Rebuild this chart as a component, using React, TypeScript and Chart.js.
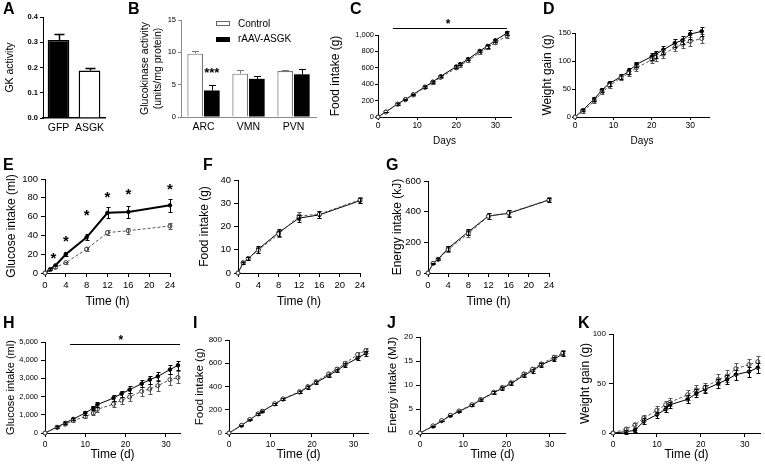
import React, { useEffect, useRef } from "react";
import { Chart, registerables } from "chart.js";

Chart.register(...registerables);

const FONT = "'Liberation Sans', Arial, Helvetica, sans-serif";

// ---------- Panel A ----------
const A_LABELS = ["GFP", "ASGK"];
const A_VALUES = [0.309, 0.188];
const A_ERRORS = [0.024, 0.011];
const A_Y_TICKS = [0, 0.1, 0.2, 0.3, 0.4];

// ---------- Panel B ----------
const B_LABELS = ["ARC", "VMN", "PVN"];
const B_CONTROL = [9.8, 6.7, 7.1];
const B_CONTROL_ERR = [0.4, 0.6, 0.15];
const B_ASGK = [4.1, 5.9, 6.6];
const B_ASGK_ERR = [0.8, 0.5, 0.9];
const B_Y_TICKS = [0, 5, 10, 15];
const B_SERIES = ["Control", "rAAV-ASGK"];

// ---------- Panel C (food intake, days) ----------
const C_DAYS = [0, 2, 5, 7, 9, 12, 14, 16, 20, 21, 23, 26, 28, 30, 33];
const C_SOLID = [0, 62, 160, 215, 275, 368, 430, 495, 615, 645, 705, 805, 865, 935, 1025];
const C_SOLID_ERR = [0, 5, 8, 8, 10, 10, 12, 12, 15, 15, 15, 18, 18, 20, 22];
const C_DASH = [0, 60, 155, 210, 268, 360, 420, 482, 598, 628, 688, 785, 845, 905, 990];
const C_DASH_ERR = [0, 5, 8, 8, 10, 10, 12, 12, 15, 15, 15, 18, 18, 20, 22];
const C_X_TICKS = [0, 10, 20, 30];
const C_Y_TICKS = [0, 200, 400, 600, 800, 1000];

// ---------- Panel D (weight gain, days) ----------
const D_DAYS = [0, 2, 5, 7, 9, 12, 14, 16, 20, 21, 23, 26, 28, 30, 33];
const D_SOLID = [0, 12, 32, 48, 60, 72, 82, 94, 108, 112, 120, 132, 137, 148, 153];
const D_SOLID_ERR = [0, 2, 3, 3, 4, 4, 5, 5, 6, 6, 7, 7, 7, 8, 8];
const D_DASH = [0, 10, 28, 44, 56, 70, 78, 88, 102, 106, 112, 124, 130, 135, 140];
const D_DASH_ERR = [0, 2, 3, 3, 4, 4, 5, 5, 6, 6, 7, 7, 7, 8, 8];
const D_X_TICKS = [0, 10, 20, 30];
const D_Y_TICKS = [0, 50, 100, 150];

// ---------- Panel E (glucose intake, hours) ----------
const E_HOURS = [0, 1, 2, 4, 8, 12, 16, 24];
const E_SOLID = [0, 4, 8, 20, 38, 64, 65, 72];
const E_SOLID_ERR = [0, 1, 1, 2, 3, 6, 6, 7];
const E_DASH = [0, 3.5, 6, 11, 25.5, 43, 45, 50];
const E_DASH_ERR = [0, 0.5, 1, 1, 2, 3, 3, 3];
const E_X_TICKS = [0, 4, 8, 12, 16, 20, 24];
const E_Y_TICKS = [0, 20, 40, 60, 80, 100];
const E_STAR_X = [1.6, 4, 8, 12, 16, 24];
const E_STAR_Y = [20, 38, 66, 85, 87.5, 93.5];

// ---------- Panel F (food intake, hours) ----------
const F_HOURS = [0, 1, 2, 4, 8, 12, 16, 24];
const F_SOLID = [0, 4.3, 6.1, 10.3, 17.4, 23.6, 25, 31.1];
const F_SOLID_ERR = [0, 0.5, 0.6, 1.5, 1.5, 1.5, 1.5, 1];
const F_DASH = [0, 4.5, 6.3, 9.8, 16.8, 24.5, 25.3, 31.5];
const F_DASH_ERR = [0, 0.5, 0.6, 1.3, 1.5, 1.8, 1.5, 1.2];
const F_Y_TICKS = [0, 10, 20, 30, 40];

// ---------- Panel G (energy intake, hours) ----------
const G_HOURS = [0, 1, 2, 4, 8, 12, 16, 24];
const G_SOLID = [0, 63, 91, 161, 269, 372, 389, 476];
const G_SOLID_ERR = [0, 5, 5, 18, 18, 20, 22, 15];
const G_DASH = [0, 62, 88, 152, 258, 370, 392, 478];
const G_DASH_ERR = [0, 5, 5, 15, 20, 20, 20, 15];
const G_Y_TICKS = [0, 200, 400, 600];

// ---------- Panel H (glucose intake, days) ----------
const H_DAYS = [0, 3, 5, 7, 10, 12, 13, 17, 19, 21, 24, 26, 28, 31, 33];
const H_SOLID = [0, 330, 550, 770, 1100, 1370, 1560, 1920, 2160, 2380, 2710, 2930, 3110, 3480, 3720];
const H_SOLID_ERR = [0, 30, 50, 60, 100, 120, 130, 150, 170, 180, 200, 220, 230, 250, 260];
const H_DASH = [0, 300, 480, 680, 900, 1100, 1300, 1590, 1800, 1980, 2290, 2420, 2600, 2930, 3050];
const H_DASH_ERR = [0, 30, 50, 60, 100, 120, 130, 180, 200, 220, 250, 270, 290, 310, 330];
const H_X_TICKS = [0, 10, 20, 30];
const H_Y_TICKS = [0, 1000, 2000, 3000, 4000, 5000];

// ---------- Panel I (food intake, days) ----------
const I_DAYS = [0, 3, 5, 7, 8, 11, 13, 17, 19, 21, 24, 26, 28, 31, 33];
const I_SOLID = [0, 66, 114, 163, 186, 249, 291, 351, 394, 434, 494, 537, 586, 645, 686];
const I_SOLID_ERR = [0, 4, 5, 6, 6, 8, 8, 10, 12, 12, 14, 15, 16, 18, 20];
const I_DASH = [0, 66, 116, 165, 188, 252, 294, 356, 400, 442, 508, 550, 600, 675, 710];
const I_DASH_ERR = [0, 4, 5, 6, 6, 8, 8, 10, 12, 12, 14, 15, 16, 18, 20];
const I_Y_TICKS = [0, 200, 400, 600, 800];

// ---------- Panel J (energy intake, days) ----------
const J_DAYS = [0, 3, 5, 7, 9, 12, 14, 17, 19, 21, 24, 26, 28, 31, 33];
const J_SOLID = [0, 1.4, 2.5, 3.6, 4.5, 5.8, 6.9, 8.4, 9.3, 10.3, 12.0, 13.0, 14.2, 15.4, 16.5];
const J_SOLID_ERR = [0, 0.1, 0.1, 0.15, 0.15, 0.2, 0.2, 0.25, 0.3, 0.3, 0.35, 0.4, 0.4, 0.45, 0.5];
const J_DASH = [0, 1.5, 2.6, 3.7, 4.6, 5.9, 7.0, 8.5, 9.5, 10.5, 12.3, 13.3, 14.4, 15.8, 16.7];
const J_DASH_ERR = [0, 0.1, 0.1, 0.15, 0.15, 0.2, 0.2, 0.25, 0.3, 0.3, 0.35, 0.4, 0.4, 0.45, 0.5];
const J_Y_TICKS = [0, 5, 10, 15, 20];

// ---------- Panel K (weight gain, days) ----------
const K_DAYS = [0, 3, 5, 7, 10, 12, 13, 17, 19, 21, 24, 26, 28, 31, 33];
const K_SOLID = [0, 1.3, 2.7, 11.7, 18.5, 24, 28.5, 34, 40, 44, 50, 54, 59, 62, 66];
const K_SOLID_ERR = [0, 2, 2, 3, 3, 3, 3, 4, 4, 4, 5, 5, 5, 5, 5];
const K_DASH = [0, 4, 8.4, 15, 23, 28.5, 31, 38.6, 43.6, 46, 54, 57.7, 65, 69, 72];
const K_DASH_ERR = [0, 2, 2, 3, 4, 4, 4, 5, 5, 5, 6, 6, 6, 6, 6];
const K_Y_TICKS = [0, 50, 100];

// ---------- helpers ----------
type Box = { l: number; t: number; w: number; h: number; L: number; T: number; R: number; B: number };

const fmtComma = (v: number) => Number(v).toLocaleString("en-US");
const fmtPlain = (v: number) => String(v);

const common = {
  responsive: false,
  maintainAspectRatio: false,
  animation: false,
  devicePixelRatio: 1,
  events: [],
  plugins: { legend: { display: false }, tooltip: { enabled: false } },
};

function layoutFor(b: Box) {
  return { padding: { left: 0, top: b.T - b.t, right: b.l + b.w - b.R, bottom: 0 } };
}
const fitW = (w: number) => (s: any) => {
  s.width = w;
  s.paddingLeft = 0; s.paddingRight = 0; s.paddingTop = 0; s.paddingBottom = 0;
};
const fitH = (h: number) => (s: any) => {
  s.height = h;
  s.paddingLeft = 0; s.paddingRight = 0; s.paddingTop = 0; s.paddingBottom = 0;
};

function linAxis(o: any) {
  const color = o.color || "#000";
  return {
    type: "linear",
    min: o.min,
    max: o.max,
    afterBuildTicks: (s: any) => {
      s.ticks = o.ticks.map((v: number) => ({ value: v }));
    },
    afterFit: o.fit,
    grid: { display: true, drawOnChartArea: false, drawTicks: true, tickLength: o.tickLen, color, lineWidth: 1 },
    border: { display: true, color, width: 1 },
    ticks: {
      autoSkip: false,
      maxRotation: 0,
      minRotation: 0,
      padding: o.tickPad,
      color: "#000",
      font: { family: FONT, size: o.tickSize, weight: o.tickBold ? "bold" : "normal" },
      callback: (v: any) => (o.fmt ? o.fmt(v) : String(v)),
    },
    title: o.title
      ? {
          display: true,
          text: o.title,
          color: "#000",
          font: { family: FONT, size: o.titleSize },
          padding: o.titlePad || { top: 4, bottom: 4 },
        }
      : { display: false },
  };
}

const errorBarPlugin = {
  id: "errorBarsCustom",
  afterDatasetsDraw(chart: any) {
    const ctx = chart.ctx;
    chart.data.datasets.forEach((ds: any, i: number) => {
      if (!ds.errors) return;
      const meta = chart.getDatasetMeta(i);
      const ys = chart.scales[meta.yAxisID];
      const isBar = meta.type === "bar";
      ctx.save();
      ctx.strokeStyle = ds.errColor || "#000";
      ctx.lineWidth = ds.errWidth || 1;
      const cap = ds.capHalf ?? 2;
      meta.data.forEach((el: any, j: number) => {
        const e = ds.errors[j];
        if (!e) return;
        const raw = ds.data[j];
        const v = typeof raw === "number" ? raw : raw.y;
        const x = Math.round(el.x) + 0.5;
        const top = Math.round(ys.getPixelForValue(v + e)) + 0.5;
        const bot = isBar ? el.y : Math.round(ys.getPixelForValue(v - e)) + 0.5;
        ctx.beginPath();
        ctx.moveTo(x, top);
        ctx.lineTo(x, bot);
        ctx.moveTo(x - cap, top);
        ctx.lineTo(x + cap, top);
        if (!isBar) {
          ctx.moveTo(x - cap, bot);
          ctx.lineTo(x + cap, bot);
        }
        ctx.stroke();
      });
      ctx.restore();
    });
  },
};

type Ann = {
  lines?: { x1: number; x2: number; y: number }[];
  texts?: { x?: number; ds?: number; i?: number; y: number; text: string; size: number }[];
};
function annotPlugin(a: Ann) {
  return {
    id: "annotCustom",
    afterDraw(chart: any) {
      const ctx = chart.ctx;
      const xs = chart.scales.x;
      const ys = chart.scales.y;
      ctx.save();
      ctx.strokeStyle = "#000";
      ctx.lineWidth = 1;
      (a.lines || []).forEach((l) => {
        const y = Math.round(ys.getPixelForValue(l.y)) + 0.5;
        ctx.beginPath();
        ctx.moveTo(xs.getPixelForValue(l.x1), y);
        ctx.lineTo(xs.getPixelForValue(l.x2), y);
        ctx.stroke();
      });
      ctx.fillStyle = "#000";
      ctx.textAlign = "center";
      ctx.textBaseline = "alphabetic";
      (a.texts || []).forEach((t) => {
        const x = t.ds != null ? chart.getDatasetMeta(t.ds).data[t.i as number].x : xs.getPixelForValue(t.x);
        ctx.font = `bold ${t.size}px ${FONT}`;
        ctx.fillText(t.text, x, ys.getPixelForValue(t.y) + t.size * 0.57);
      });
      ctx.restore();
    },
  };
}

const toXY = (xs: number[], ys: number[]) => xs.map((x, i) => ({ x, y: ys[i] }));

function solidSet(xs: number[], ys: number[], err: number[], width = 1) {
  return {
    data: toXY(xs, ys),
    errors: err,
    borderColor: "#000",
    borderWidth: width,
    pointRadius: 1.8,
    pointBackgroundColor: "#000",
    pointBorderColor: "#000",
    pointBorderWidth: 1,
    errColor: "#000",
    capHalf: 2,
    clip: false,
    tension: 0,
  };
}
function dashSet(xs: number[], ys: number[], err: number[]) {
  return {
    data: toXY(xs, ys),
    errors: err,
    borderColor: "#555",
    borderWidth: 1,
    borderDash: [3, 2],
    pointRadius: 2,
    pointBackgroundColor: "#fff",
    pointBorderColor: "#333",
    pointBorderWidth: 1,
    errColor: "#555",
    capHalf: 2,
    clip: false,
    tension: 0,
  };
}

function lineChart(b: Box, p: any) {
  return {
    type: "line",
    data: { datasets: p.datasets },
    options: {
      ...common,
      layout: layoutFor(b),
      scales: {
        x: linAxis({
          min: 0, max: p.xMax, ticks: p.xTicks, fit: fitH(b.t + b.h - b.B),
          tickLen: p.tickLen, tickPad: p.xTickPad ?? p.tickPad, tickSize: p.xTickSize ?? p.tickSize,
          title: p.xTitle, titleSize: p.xTitleSize, titlePad: { top: 0, bottom: p.xTitlePadB ?? 4 }, fmt: fmtPlain,
        }),
        y: linAxis({
          min: 0, max: p.yMax, ticks: p.yTicks, fit: fitW(b.L - b.l),
          tickLen: p.tickLen, tickPad: p.tickPad, tickSize: p.tickSize,
          title: p.yTitle, titleSize: p.yTitleSize, fmt: p.yFmt || fmtPlain,
        }),
      },
    },
    plugins: [errorBarPlugin, annotPlugin(p.ann || {})],
  };
}

// ---------- boxes (layout) ----------
const BOX_A: Box = { l: 0, t: 0, w: 112, h: 140, L: 43, T: 17, R: 105, B: 118 };
const BOX_B: Box = { l: 135, t: 0, w: 183, h: 140, L: 181, T: 20, R: 316, B: 117 };
const BOX_C: Box = { l: 324, t: 0, w: 192, h: 151, L: 378, T: 35, R: 513, B: 117 };
const BOX_D: Box = { l: 536, t: 0, w: 178, h: 151, L: 575, T: 33, R: 711, B: 117 };
const BOX_E: Box = { l: 0, t: 150, w: 176, h: 163, L: 45, T: 179, R: 170, B: 273 };
const BOX_F: Box = { l: 193, t: 150, w: 172, h: 163, L: 238, T: 180, R: 360, B: 273 };
const BOX_G: Box = { l: 386, t: 150, w: 168, h: 163, L: 428, T: 181, R: 549, B: 273 };
const BOX_H: Box = { l: 0, t: 310, w: 185, h: 156, L: 45, T: 342, R: 180, B: 433 };
const BOX_I: Box = { l: 189, t: 310, w: 184, h: 156, L: 229, T: 340, R: 370, B: 433 };
const BOX_J: Box = { l: 382, t: 310, w: 188, h: 156, L: 420, T: 337, R: 567, B: 433 };
const BOX_K: Box = { l: 574, t: 310, w: 191, h: 156, L: 613, T: 334, R: 765, B: 433 };

function categoryAxis(b: Box, borderColor: string, borderWidth: number) {
  return {
    type: "category",
    afterFit: fitH(b.t + b.h - b.B),
    grid: { display: false, drawTicks: false },
    border: { display: true, color: borderColor, width: borderWidth },
    ticks: {
      padding: 4,
      autoSkip: false,
      maxRotation: 0,
      minRotation: 0,
      color: "#000",
      font: { family: FONT, size: 10.5 },
    },
  };
}

function configA() {
  const b = BOX_A;
  return {
    type: "bar",
    data: {
      labels: A_LABELS,
      datasets: [
        {
          data: A_VALUES,
          errors: A_ERRORS,
          backgroundColor: ["#000", "#fff"],
          borderColor: "#000",
          borderWidth: 1.5,
          barPercentage: 0.7,
          categoryPercentage: 1,
          errColor: "#000",
          errWidth: 1.5,
          capHalf: 5,
        },
      ],
    },
    options: {
      ...common,
      layout: layoutFor(b),
      scales: {
        x: categoryAxis(b, "#000", 1.5),
        y: linAxis({
          min: 0, max: 0.4, ticks: A_Y_TICKS, fit: fitW(b.L - b.l), tickLen: 3, tickPad: 2, tickSize: 7.5,
          tickBold: true, title: "GK activity", titleSize: 10.5, fmt: (v: number) => Number(v).toFixed(1),
        }),
      },
    },
    plugins: [errorBarPlugin],
  };
}

function configB() {
  const b = BOX_B;
  return {
    type: "bar",
    data: {
      labels: B_LABELS,
      datasets: [
        {
          label: B_SERIES[0],
          data: B_CONTROL,
          errors: B_CONTROL_ERR,
          backgroundColor: "#fff",
          borderColor: "#777",
          borderWidth: 1.2,
          barPercentage: 0.94,
          categoryPercentage: 0.74,
          errColor: "#777",
          capHalf: 3.5,
        },
        {
          label: B_SERIES[1],
          data: B_ASGK,
          errors: B_ASGK_ERR,
          backgroundColor: "#000",
          borderColor: "#000",
          borderWidth: 0,
          barPercentage: 0.94,
          categoryPercentage: 0.74,
          errColor: "#000",
          capHalf: 3.5,
        },
      ],
    },
    options: {
      ...common,
      layout: layoutFor(b),
      scales: {
        x: categoryAxis(b, "#888", 1),
        y: linAxis({
          min: 0, max: 15, ticks: B_Y_TICKS, fit: fitW(b.L - b.l), tickLen: 3, tickPad: 2, tickSize: 7.5,
          color: "#888", title: ["Glucokinase activity", "(units/mg protein)"], titleSize: 10.5,
        }),
      },
    },
    plugins: [errorBarPlugin, annotPlugin({ texts: [{ ds: 1, i: 0, y: 7.4, text: "***", size: 13 }] })],
  };
}

function configC() {
  return lineChart(BOX_C, {
    datasets: [dashSet(C_DAYS, C_DASH, C_DASH_ERR), solidSet(C_DAYS, C_SOLID, C_SOLID_ERR)],
    xMax: 34, xTicks: C_X_TICKS, yMax: 1000, yTicks: C_Y_TICKS, yFmt: fmtComma,
    tickLen: 3, tickPad: 1, tickSize: 7.5, xTickSize: 8.5,
    xTitle: "Days", xTitleSize: 10, yTitle: "Food intake (g)", yTitleSize: 12,
    ann: { lines: [{ x1: 3.8, x2: 33, y: 1085 }], texts: [{ x: 17.9, y: 1170, text: "*", size: 12 }] },
  });
}

function configD() {
  return lineChart(BOX_D, {
    datasets: [dashSet(D_DAYS, D_DASH, D_DASH_ERR), solidSet(D_DAYS, D_SOLID, D_SOLID_ERR)],
    xMax: 34.9, xTicks: D_X_TICKS, yMax: 150, yTicks: D_Y_TICKS,
    tickLen: 3, tickPad: 1, tickSize: 7.5, xTickSize: 8.5,
    xTitle: "Days", xTitleSize: 10, yTitle: "Weight gain (g)", yTitleSize: 12,
  });
}

function configE() {
  return lineChart(BOX_E, {
    datasets: [dashSet(E_HOURS, E_DASH, E_DASH_ERR), solidSet(E_HOURS, E_SOLID, E_SOLID_ERR, 2)],
    xMax: 24, xTicks: E_X_TICKS, yMax: 100, yTicks: E_Y_TICKS,
    tickLen: 4, tickPad: 3, tickSize: 9.5,
    xTitle: "Time (h)", xTitleSize: 12, yTitle: "Glucose intake (ml)", yTitleSize: 12,
    ann: { texts: E_STAR_X.map((x, i) => ({ x, y: E_STAR_Y[i], text: "*", size: 15 })) },
  });
}

function configF() {
  return lineChart(BOX_F, {
    datasets: [dashSet(F_HOURS, F_DASH, F_DASH_ERR), solidSet(F_HOURS, F_SOLID, F_SOLID_ERR)],
    xMax: 24, xTicks: E_X_TICKS, yMax: 40, yTicks: F_Y_TICKS,
    tickLen: 4, tickPad: 3, tickSize: 9.5,
    xTitle: "Time (h)", xTitleSize: 12, yTitle: "Food intake (g)", yTitleSize: 12,
  });
}

function configG() {
  return lineChart(BOX_G, {
    datasets: [dashSet(G_HOURS, G_DASH, G_DASH_ERR), solidSet(G_HOURS, G_SOLID, G_SOLID_ERR)],
    xMax: 24, xTicks: E_X_TICKS, yMax: 600, yTicks: G_Y_TICKS,
    tickLen: 4, tickPad: 3, tickSize: 9.5,
    xTitle: "Time (h)", xTitleSize: 12, yTitle: "Energy intake (kJ)", yTitleSize: 12,
  });
}

function configH() {
  return lineChart(BOX_H, {
    datasets: [dashSet(H_DAYS, H_DASH, H_DASH_ERR), solidSet(H_DAYS, H_SOLID, H_SOLID_ERR)],
    xMax: 33.5, xTicks: H_X_TICKS, yMax: 5000, yTicks: H_Y_TICKS, yFmt: fmtComma,
    tickLen: 4, tickPad: 3, tickSize: 7.5, xTickSize: 8.5,
    xTitle: "Time (d)", xTitleSize: 12, yTitle: "Glucose intake (ml)", yTitleSize: 11,
    ann: { lines: [{ x1: 6.2, x2: 33.5, y: 4874 }], texts: [{ x: 18.8, y: 5290, text: "*", size: 12 }] },
  });
}

function configI() {
  return lineChart(BOX_I, {
    datasets: [dashSet(I_DAYS, I_DASH, I_DASH_ERR), solidSet(I_DAYS, I_SOLID, I_SOLID_ERR)],
    xMax: 33.5, xTicks: H_X_TICKS, yMax: 800, yTicks: I_Y_TICKS,
    tickLen: 4, tickPad: 3, tickSize: 8, xTickSize: 8.5,
    xTitle: "Time (d)", xTitleSize: 12, yTitle: "Food intake (g)", yTitleSize: 11.5,
  });
}

function configJ() {
  return lineChart(BOX_J, {
    datasets: [dashSet(J_DAYS, J_DASH, J_DASH_ERR), solidSet(J_DAYS, J_SOLID, J_SOLID_ERR)],
    xMax: 33.5, xTicks: H_X_TICKS, yMax: 20, yTicks: J_Y_TICKS,
    tickLen: 4, tickPad: 3, tickSize: 8, xTickSize: 8.5,
    xTitle: "Time (d)", xTitleSize: 12, yTitle: "Energy intake (MJ)", yTitleSize: 11.5,
  });
}

function configK() {
  return lineChart(BOX_K, {
    datasets: [dashSet(K_DAYS, K_DASH, K_DASH_ERR), solidSet(K_DAYS, K_SOLID, K_SOLID_ERR)],
    xMax: 33.5, xTicks: H_X_TICKS, yMax: 100, yTicks: K_Y_TICKS,
    tickLen: 4, tickPad: 3, tickSize: 8, xTickSize: 8.5,
    xTitle: "Time (d)", xTitleSize: 12, yTitle: "Weight gain (g)", yTitleSize: 12,
  });
}

function ChartPanel({ box, make }: { box: Box; make: () => any }) {
  const ref = useRef<HTMLCanvasElement | null>(null);
  useEffect(() => {
    const chart = new Chart(ref.current as HTMLCanvasElement, make() as any);
    return () => chart.destroy();
  }, []);
  return (
    <canvas
      ref={ref}
      width={box.w}
      height={box.h}
      style={{ position: "absolute", left: box.l, top: box.t, width: box.w, height: box.h }}
    />
  );
}

const LETTERS: [string, number, number][] = [
  ["A", 3, 3], ["B", 128, 3], ["C", 350, 3], ["D", 543, 3],
  ["E", 3, 159], ["F", 203, 159], ["G", 386, 159],
  ["H", 3, 317], ["I", 193, 317], ["J", 387, 317], ["K", 578, 317],
];

export default function App() {
  const panels: [Box, () => any][] = [
    [BOX_A, configA], [BOX_B, configB], [BOX_C, configC], [BOX_D, configD],
    [BOX_E, configE], [BOX_F, configF], [BOX_G, configG],
    [BOX_H, configH], [BOX_I, configI], [BOX_J, configJ], [BOX_K, configK],
  ];
  return (
    <div
      style={{
        position: "absolute", left: 0, top: 0, width: 765, height: 466,
        background: "#fff", overflow: "hidden", fontFamily: FONT,
      }}
    >
      {panels.map(([b, mk], i) => (
        <ChartPanel key={i} box={b} make={mk} />
      ))}
      {LETTERS.map(([t, x, y]) => (
        <div
          key={t}
          style={{ position: "absolute", left: x, top: y - 2, fontSize: 16, lineHeight: "15px", fontWeight: 900, color: "#000" }}
        >
          {t}
        </div>
      ))}
      {/* Legend of panel B */}
      <div style={{ position: "absolute", left: 216, top: 21, width: 14, height: 5, boxSizing: "border-box", border: "1px solid #666", background: "#fff" }} />
      <div style={{ position: "absolute", left: 216, top: 37, width: 14, height: 5, background: "#000" }} />
      <div style={{ position: "absolute", left: 238, top: 18, fontSize: 10, lineHeight: "12px", color: "#000" }}>{B_SERIES[0]}</div>
      <div style={{ position: "absolute", left: 238, top: 33, fontSize: 10, lineHeight: "12px", color: "#000" }}>{B_SERIES[1]}</div>
    </div>
  );
}
